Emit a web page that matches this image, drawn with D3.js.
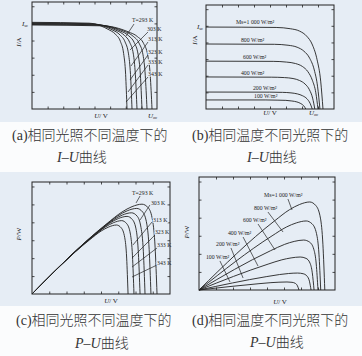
<!DOCTYPE html>
<html><head><meta charset="utf-8">
<script src="https://cdn.jsdelivr.net/npm/d3@7"></script>
<style>body{margin:0;background:#fff}svg{display:block}</style>
</head><body><svg id="c" width="362" height="356"></svg>
<script>
// ---------------- data (normalised units 0–100) ----------------
const tempLabels = ["T=293 K","303 K","313 K","323 K","333 K","343 K"];
const irrLabels  = ["Ms=1 000 W/m²","800 W/m²","600 W/m²","400 W/m²","200 W/m²","100 W/m²"];

// (a) I–U, same irradiance, different temperature
const aU = [
 [0,57.6,69.1,76.8,84.5,89.3,92.6,94.6,96],
 [0,55.2,66.2,73.6,81.0,85.6,88.8,90.6,92],
 [0,52.8,63.4,70.4,77.4,81.8,84.9,86.7,88],
 [0,50.4,60.5,67.2,73.9,78.1,81.1,82.7,84],
 [0,48.0,57.6,64.0,70.4,74.4,77.2,78.8,80],
 [0,45.6,54.7,60.8,66.9,70.7,73.3,74.9,76]];
const aI = [
 [78.5,77.7,75.4,72.2,67.5,61.2,50.2,31.4,0],
 [79.0,78.2,75.8,72.7,67.9,61.6,50.6,31.6,0],
 [79.5,78.7,76.3,73.1,68.4,62.0,50.9,31.8,0],
 [80.0,79.2,76.8,73.6,68.8,62.4,51.2,32.0,0],
 [80.5,79.7,77.3,74.1,69.2,62.8,51.5,32.2,0],
 [81.0,80.2,77.8,74.5,69.7,63.2,51.8,32.4,0]];
const aLabelPos = [[80,81.3],[92,72.9],[92.8,63.6],[92.8,51.4],[92.8,42.1],[92.8,30.8]];
const aLeaders = [[81.6,79.4,75.2,68.2],[92.8,72,78.4,55.1],[92.8,62.6,79.2,40.2],
                  [92.8,50.5,78.4,27.1],[92.8,41.1,76.8,15.9],[92.8,29.9,75.2,6.5]];

// (b) I–U, same temperature, different irradiance
const bU = [
 [0,54.8,65.8,73.1,78.6,83.2,86.8,89.6,91.4],
 [0,53.4,64.1,71.2,76.5,81.0,84.6,87.2,89],
 [0,52.5,63.0,70.0,75.3,79.6,83.1,85.8,87.5],
 [0,51.0,61.2,68.0,73.1,77.4,80.8,83.3,85],
 [0,49.8,59.8,66.4,71.4,75.5,78.9,81.3,83],
 [0,46.8,56.2,62.4,67.1,71.0,74.1,76.4,78]];
const bI = [
 [78.8,78.4,77.2,74.9,70.1,61.5,47.3,26.8,0],
 [62.5,62.2,61.3,59.4,55.6,48.8,37.5,21.3,0],
 [46,45.8,45.1,43.7,40.9,35.9,27.6,15.6,0],
 [30.8,30.6,30.2,29.3,27.4,24.0,18.5,10.5,0],
 [16.3,16.2,16.0,15.5,14.5,12.7,9.8,5.5,0],
 [8.7,8.7,8.5,8.3,7.7,6.8,5.2,3.0,0]];
const bLabelPos = [[23.4,81.7],[27.3,64.4],[28.9,48.1],[27.3,32.7],[36.7,18.3],[37.5,10.1]];

// (c) P–U, same irradiance, different temperature
const cU = [
 [0,54.4,65.2,72.5,79.7,84.3,87.4,89.2,90.6],
 [0,51.7,62.1,69.0,75.9,80.2,83.2,84.9,86.2],
 [0,49.1,59.0,65.5,72.1,76.2,79.0,80.7,81.9],
 [0,47.0,56.4,62.6,68.9,72.8,75.6,77.1,78.3],
 [0,44.3,53.2,59.1,65.0,68.7,71.3,72.8,73.9],
 [0,41.8,50.1,55.7,61.2,64.7,67.2,68.6,69.6]];
const cP = [
 [0,63.0,73.2,78.0,80.2,76.9,65.5,41.8,0],
 [0,59.9,69.7,74.3,76.4,73.2,62.4,39.8,0],
 [0,56.9,66.2,70.5,72.5,69.5,59.2,37.7,0],
 [0,54.4,63.3,67.4,69.3,66.4,56.6,36.1,0],
 [0,51.4,59.8,63.7,65.5,62.7,53.5,34.1,0],
 [0,48.4,56.2,59.9,61.6,59.0,50.3,32.1,0]];
const cLabelPos = [[72.5,88.4],[86.2,79.5],[87.7,64.3],[89.1,53.6],[90.6,42.0],[90.6,25.9]];
const cLeaders = [[78.3,87.5,75.4,81.3],[85.5,79.5,78.3,66.1],[87,64.3,73.2,43.8],
                  [89.1,52.7,72.5,32.1],[90.6,41.1,72.5,24.1],[90.6,25.9,72.5,15.2]];

// (d) P–U, same temperature, different irradiance
const dU = [
 [0,55.5,66.6,74.0,81.4,86.0,89.3,91.1,92.5],
 [0,53.7,64.4,71.6,78.8,83.2,86.4,88.2,89.5],
 [0,52.5,63.0,70.0,77.0,81.4,84.4,86.2,87.5],
 [0,50.8,60.9,67.7,74.4,78.7,81.6,83.3,84.6],
 [0,49.4,59.3,65.9,72.5,76.6,79.5,81.2,82.4],
 [0,44.1,52.9,58.8,64.7,68.4,70.9,72.4,73.5]];
const dP = [
 [0,61.1,71.1,75.7,77.9,74.6,63.6,40.5,0],
 [0,47.9,55.8,59.4,61.1,58.5,49.9,31.8,0],
 [0,34.7,40.4,43.0,44.2,42.3,36.1,23.0,0],
 [0,22.9,26.7,28.4,29.2,28.0,23.9,15.2,0],
 [0,11.8,13.7,14.6,15.0,14.4,12.2,7.8,0],
 [0,5.6,6.5,6.9,7.1,6.8,5.8,3.7,0]];
const dLabelPos = [[47.8,82.3],[40.4,70.8],[32.4,60.2],[21.3,48.7],[12.5,38.9],[5.1,27.4]];
const dLeaders = [[65.4,80.5,68.4,70.8],[50.7,69.0,61.8,51.3],[43.4,58.4,55.9,35.4],
                  [32.4,46.9,43.4,21.2],[23.5,37.2,32.4,10.6],[15.4,25.7,22.8,7.1]];

const uTicks = [12.5,25,37.5,50,62.5,75,87.5];
const yTicks = [16,32,48,64,80,96];

const captions = [
 ["(a)","相同光照不同温度下的","I","U"],
 ["(b)","相同温度不同光照下的","I","U"],
 ["(c)","相同光照不同温度下的","P","U"],
 ["(d)","相同温度不同光照下的","P","U"]];

// ---------------- drawing ----------------
const svg = d3.select("#c");
const BLUE = "#e6edf5", WHITE = "#fbfcfd", INK = "#222";
svg.append("rect").attr("x",0).attr("y",0).attr("width",362).attr("height",122).attr("fill",BLUE);
svg.append("rect").attr("x",0).attr("y",122).attr("width",362).attr("height",50).attr("fill",WHITE);
svg.append("rect").attr("x",0).attr("y",172).attr("width",362).attr("height",134).attr("fill",BLUE);
svg.append("rect").attr("x",0).attr("y",306).attr("width",362).attr("height",50).attr("fill",WHITE);

const SERIF = "'Liberation Serif','DejaVu Serif',serif";
const CJK = "'Noto Sans CJK SC',sans-serif";

function panel(cfg){
  const [x0,y0,x1,y1] = cfg.box;
  const x = d3.scaleLinear().domain([0,100]).range([x0,x1]);
  const y = d3.scaleLinear().domain([0,100]).range([y1,y0]);
  const g = svg.append("g");

  const ax = [
    [d3.axisBottom(x).tickValues(uTicks), `translate(0,${y1})`],
    [d3.axisTop(x).tickValues(uTicks), `translate(0,${y0})`],
    [d3.axisLeft(y).tickValues(yTicks), `translate(${x0},0)`],
    [d3.axisRight(y).tickValues(yTicks), `translate(${x1},0)`]];
  ax.forEach(([a,t])=>{
    const s = g.append("g").attr("transform",t)
      .call(a.tickSize(-2.5).tickFormat(""));
    s.select(".domain").remove();
    s.selectAll("line").attr("stroke",INK).attr("stroke-width",0.8);
  });

  const line = d3.line().x(d=>x(d[0])).y(d=>y(d[1])).curve(d3.curveMonotoneX);
  cfg.U.forEach((us,i)=>{
    const pts = us.map((u,j)=>[u,cfg.V[i][j]]);
    g.append("path").attr("d",line(pts)).attr("fill","none")
      .attr("stroke",INK).attr("stroke-width",0.9);
  });

  if(cfg.leaders) cfg.leaders.forEach(l=>{
    g.append("line").attr("x1",x(l[0])).attr("y1",y(l[1]))
      .attr("x2",x(l[2])).attr("y2",y(l[3]))
      .attr("stroke",INK).attr("stroke-width",0.7);
  });

  cfg.labels.forEach((t,i)=>{
    g.append("text").attr("x",x(cfg.labelPos[i][0])).attr("y",y(cfg.labelPos[i][1]))
      .attr("font-family",SERIF).attr("font-size",5.8).attr("fill",INK)
      .attr("stroke",BLUE).attr("stroke-width",1.6).attr("paint-order","stroke")
      .text(t);
  });

  g.append("rect").attr("x",x0).attr("y",y0).attr("width",x1-x0).attr("height",y1-y0)
    .attr("fill","none").attr("stroke",INK).attr("stroke-width",1);

  const yl = g.append("text").attr("transform",`translate(${cfg.yName[1]},${cfg.yName[2]}) rotate(-90)`)
    .attr("font-family",SERIF).attr("font-size",7).attr("fill",INK).attr("text-anchor","middle");
  yl.append("tspan").attr("font-style","italic").text(cfg.yName[0]);
  yl.append("tspan").text("/"+cfg.yName[3]);
  const xl = g.append("text").attr("x",cfg.xName[0]).attr("y",cfg.xName[1])
    .attr("font-family",SERIF).attr("font-size",7).attr("fill",INK).attr("text-anchor","middle");
  xl.append("tspan").attr("font-style","italic").text("U");
  xl.append("tspan").text("/ V");
  if(cfg.isc){
    const t = g.append("text").attr("x",cfg.isc[0]).attr("y",cfg.isc[1])
      .attr("font-family",SERIF).attr("font-size",7).attr("fill",INK);
    t.append("tspan").attr("font-style","italic").text("I");
    t.append("tspan").attr("font-size",4.5).attr("dy",1.2).text("sc");
  }
  if(cfg.uoc){
    const t = g.append("text").attr("x",cfg.uoc[0]).attr("y",cfg.uoc[1])
      .attr("font-family",SERIF).attr("font-size",7).attr("fill",INK);
    t.append("tspan").attr("font-style","italic").text("U");
    t.append("tspan").attr("font-size",4.5).attr("dy",1.2).text("oc");
  }
}

panel({box:[32,2,157,109],U:aU,V:aI,labels:tempLabels,labelPos:aLabelPos,leaders:aLeaders,
  yName:["I",21,42,"A"],xName:[101,118],isc:[22,26],uoc:[148,118]});
panel({box:[206,5,334,109],U:bU,V:bI,labels:irrLabels,labelPos:bLabelPos,
  yName:["I",197,40,"A"],xName:[270,115],isc:[197,29],uoc:[309,115]});
panel({box:[32,182,170,294],U:cU,V:cP,labels:tempLabels,labelPos:cLabelPos,leaders:cLeaders,
  yName:["P",21,234,"W"],xName:[111,303]});
panel({box:[199,177,335,290],U:dU,V:dP,labels:irrLabels,labelPos:dLabelPos,leaders:dLeaders,
  yName:["P",189,232,"W"],xName:[280,304]});

const capPos = [[12,140,57,162],[192,140,247,162],[16,325,75,348],[192,325,250,347]];
captions.forEach((c,i)=>{
  const [cx,cy,lx,ly] = capPos[i];
  const t = svg.append("text").attr("x",cx).attr("y",cy).attr("font-size",14).attr("fill","#333");
  t.append("tspan").attr("font-family",SERIF).text(c[0]);
  t.append("tspan").attr("font-family",CJK).attr("font-weight",300).text(c[1]);
  const t2 = svg.append("text").attr("x",lx).attr("y",ly).attr("font-size",14).attr("fill","#333");
  t2.append("tspan").attr("font-family",SERIF).attr("font-style","italic").text(c[2]);
  t2.append("tspan").attr("font-family",SERIF).text("–");
  t2.append("tspan").attr("font-family",SERIF).attr("font-style","italic").text(c[3]);
  t2.append("tspan").attr("font-family",CJK).attr("font-weight",300).text("曲线");
});
</script></body></html>
